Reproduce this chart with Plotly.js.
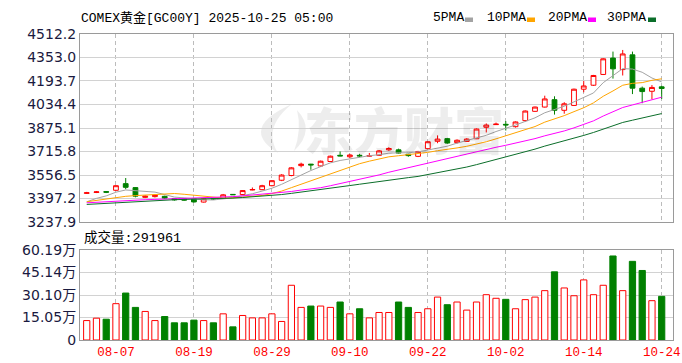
<!DOCTYPE html>
<html>
<head>
<meta charset="utf-8">
<script src="https://cdn.plot.ly/plotly-3.0.1.min.js"></script>
<style>html,body{margin:0;padding:0;background:#fff;}#chart{width:682px;height:363px;}</style>
</head>
<body>
<div id="chart"></div>
<script>
// ---- data ----
const dates = ['08-04','08-05','08-06','08-07','08-08','08-11','08-12','08-13','08-14','08-15',
'08-18','08-19','08-20','08-21','08-22','08-25','08-26','08-27','08-28','08-29',
'09-01','09-02','09-03','09-04','09-05','09-08','09-09','09-10','09-11','09-12',
'09-15','09-16','09-17','09-18','09-19','09-22','09-23','09-24','09-25','09-26',
'09-29','09-30','10-01','10-02','10-03','10-06','10-07','10-08','10-09','10-10',
'10-13','10-14','10-15','10-16','10-17','10-20','10-21','10-22','10-23','10-24'];

const open = [3432,3438,3444,3453,3498,3471,3405,3410,3412,3397,
3396,3395,3373,3397,3398,3425,3424,3455,3457,3484,
3521,3553,3620,3630,3618,3648,3690,3680,3690,3684,
3690,3727,3727,3697,3683,3735,3785,3803,3776,3784,
3802,3880,3898,3900,3884,3925,3988,4017,4067,3995,
4028,4138,4165,4238,4349,4271,4371,4145,4124,4154];
const high = [3442,3448,3448,3487,3536,3474,3418,3426,3416,3400,
3400,3398,3398,3400,3428,3426,3453,3472,3490,3522,
3562,3610,3640,3632,3654,3688,3716,3700,3700,3706,
3726,3745,3735,3700,3720,3785,3825,3808,3798,3806,
3872,3906,3912,3922,3920,3994,4020,4094,4090,4050,
4142,4194,4235,4348,4393,4404,4393,4156,4166,4161];
const low = [3428,3434,3434,3450,3460,3405,3400,3404,3395,3383,
3382,3370,3370,3388,3395,3421,3420,3453,3454,3480,
3515,3548,3608,3592,3612,3644,3684,3670,3678,3682,
3686,3720,3702,3680,3678,3730,3772,3768,3770,3780,
3800,3845,3896,3858,3878,3918,3985,4014,3966,3972,
4024,4117,4160,4234,4210,4231,4105,4043,4070,4072];
const close = [3436,3442,3440,3484,3473,3413,3413,3420,3400,3388,
3386,3374,3395,3394,3422,3423,3451,3458,3484,3518,
3556,3605,3630,3625,3650,3684,3686,3692,3686,3688,
3720,3736,3705,3688,3716,3782,3800,3773,3792,3800,
3868,3895,3901,3896,3916,3990,4017,4072,3995,4039,
4138,4160,4231,4344,4276,4377,4145,4122,4150,4143];

const ma5 = [3375,3398,3415,3440,3455,3450.4,3444.6,3440.6,3423.8,3406.8,
3401.4,3393.6,3388.6,3387.4,3394.2,3401.6,3417,3429.6,3447.6,3466.8,
3493.4,3524.2,3558.6,3586.8,3613.2,3638.8,3655,3667.4,3679.6,3687.2,
3694.4,3704.4,3707,3707.4,3713,3725.4,3738.2,3751.8,3772.6,3789.4,
3806.6,3825.6,3851.2,3872,3895.2,3919.6,3944,3978.2,3998,4022.6,
4052.2,4080.8,4112.6,4182.4,4229.8,4277.6,4274.6,4252.8,4214,4187.4];
const ma10 = [3375,3385,3393,3403,3412,3417,3421,3426,3429,3430.9,
3425.9,3419.1,3414.6,3405.6,3400.5,3401.5,3405.3,3409.1,3417.5,3430.5,
3447.5,3470.6,3494.1,3517.2,3540,3566.1,3589.6,3613,3633.2,3650.2,
3666.6,3679.7,3687.2,3693.5,3700.1,3709.9,3721.3,3729.4,3740,3751.2,
3766,3781.9,3801.5,3822.3,3842.3,3863.1,3884.8,3914.7,3935,3958.9,
3985.9,4012.4,4045.4,4090.2,4126.2,4164.9,4177.7,4182.7,4198.2,4208.6];
const ma20 = [3368,3372,3376,3381,3385,3387,3389,3391,3393,3395,
3396,3397,3399,3401,3405,3410,3415,3420,3425,3430.7,
3436.7,3444.9,3454.4,3461.4,3470.3,3483.8,3497.5,3511.1,3525.4,3540.4,
3557.1,3575.2,3590.7,3605.4,3620.1,3638,3655.5,3671.2,3686.6,3700.7,
3716.3,3730.8,3744.4,3757.9,3771.2,3786.5,3803.1,3822.1,3837.5,3855.1,
3876,3897.2,3923.5,3956.3,3984.3,4014,4031.3,4048.7,4066.6,4083.8];
const ma30 = [3357,3361,3365,3370,3374,3378,3381,3384,3387,3389,
3391,3392,3393,3395,3397,3400,3404,3408,3413,3418,
3424,3432,3440,3448,3456,3466,3475,3485,3494,3503.9,
3513.3,3523.1,3532,3538.8,3546.9,3559.2,3572.1,3583.8,3596.9,3610.6,
3626.7,3644.1,3660.9,3677.7,3694.1,3713,3731.9,3752.4,3769.4,3786.8,
3806.2,3824.7,3844.7,3868.7,3889.5,3912.6,3927.9,3942.3,3957.7,3972.9];

const volume = [130000,146000,139000,243000,314000,218000,191000,130000,157000,115000,
115000,133000,130000,115000,175000,88000,164000,148000,148000,175000,
124000,366000,218000,227000,227000,218000,254000,175000,209000,148000,
184000,184000,254000,218000,184000,209000,287000,236000,254000,200000,
254000,303000,279000,272000,209000,270000,287000,330000,456000,348000,
296000,402000,303000,366000,562000,330000,526000,465000,263000,291961];

const tickDates = ['08-07','08-19','08-29','09-10','09-22','10-02','10-14','10-24'];
const priceTicks = [3237.9,3397.2,3556.5,3715.8,3875.1,4034.4,4193.7,4353.0,4512.2];
const volTicks = [0,150475,300950,451425,601900];
const volTickText = ['0','15.05万','30.10万','45.14万','60.19万'];
const lastVolume = 291961;

// ---- styles ----
const RED = '#ff0000', GREEN = '#008000';
const up = close.map((c,i)=> c >= open[i]);

const traces = [
  {type:'candlestick', x:dates, open:open, high:high, low:low, close:close,
   xaxis:'x', yaxis:'y', hoverinfo:'skip',
   increasing:{line:{color:RED,width:1}, fillcolor:'#ffffff'},
   decreasing:{line:{color:GREEN,width:1}, fillcolor:GREEN},
   whiskerwidth:0},
  {type:'scatter', mode:'lines', x:dates, y:ma5, xaxis:'x', yaxis:'y', line:{color:'#a3a3a3',width:1}, hoverinfo:'skip'},
  {type:'scatter', mode:'lines', x:dates, y:ma10, xaxis:'x', yaxis:'y', line:{color:'#ffa500',width:1}, hoverinfo:'skip'},
  {type:'scatter', mode:'lines', x:dates, y:ma20, xaxis:'x', yaxis:'y', line:{color:'#ff00ff',width:1}, hoverinfo:'skip'},
  {type:'scatter', mode:'lines', x:dates, y:ma30, xaxis:'x', yaxis:'y', line:{color:'#0b6e2a',width:1}, hoverinfo:'skip'},
  {type:'bar', x:dates, y:volume, xaxis:'x2', yaxis:'y2', width:0.64, hoverinfo:'skip',
   marker:{color:up.map(u=>u?'#ffffff':GREEN), line:{color:up.map(u=>u?RED:GREEN), width:1}}}
];

const pxX = p => (p-80)/593;
const pxY = p => (340-p)/306;
const monoFont = 'Liberation Mono, "Noto Sans CJK SC", monospace';
const axisFont = {family:'DejaVu Sans, "Noto Sans CJK SC", sans-serif', size:14, color:'#1a1a40'};

const xBase = {type:'category', range:[-0.69,60.16], tickvals:tickDates, ticktext:tickDates,
  showgrid:true, gridcolor:'#bcbcbc', griddash:'4px,3px', gridwidth:1,
  showline:true, mirror:true, linecolor:'#9a9a9a', linewidth:1, ticks:'', zeroline:false, fixedrange:true};

const legendItems = [
  {t:'5PMA', x:432, bx:465, c:'#a3a3a3'},
  {t:'10PMA', x:486, bx:527, c:'#ffa500'},
  {t:'20PMA', x:547, bx:588, c:'#ff00ff'},
  {t:'30PMA', x:606, bx:648, c:'#0b6e2a'}
];

const annotations = [
  {xref:'paper', yref:'paper', x:pxX(79), y:pxY(18), xanchor:'left', yanchor:'middle', showarrow:false,
   text:'COMEX黄金[GC00Y] 2025-10-25 05:00', font:{family:monoFont, size:13, color:'#000'}},
  {xref:'paper', yref:'paper', x:pxX(82), y:pxY(237), xanchor:'left', yanchor:'middle', showarrow:false,
   text:'成交量:' + lastVolume, font:{family:monoFont, size:13.5, color:'#000'}},
  {xref:'paper', yref:'paper', x:pxX(404), y:pxY(128), xanchor:'center', yanchor:'middle', showarrow:false,
   text:'东方财富', font:{family:'"Noto Sans CJK SC"', size:50, color:'rgba(0,0,0,0.07)', weight:900}}
];
const P = (x,y)=> pxX(x).toFixed(4)+','+pxY(y).toFixed(4);
const shapes = [
  {type:'path', xref:'paper', yref:'paper', layer:'below', line:{width:0}, fillcolor:'rgba(0,0,0,0.07)',
   path:'M'+P(292,104)+' Q'+P(238,128)+' '+P(278,153)+' Q'+P(262,128)+' '+P(292,104)+' Z'},
  {type:'path', xref:'paper', yref:'paper', layer:'below', line:{width:0}, fillcolor:'rgba(0,0,0,0.07)',
   path:'M'+P(297,110)+' Q'+P(316,130)+' '+P(294,151)+' Q'+P(302,130)+' '+P(297,110)+' Z'}
];
legendItems.forEach(l=>{
  annotations.push({xref:'paper', yref:'paper', x:pxX(l.x-1), y:pxY(18), xanchor:'left', yanchor:'middle', showarrow:false,
    text:l.t, font:{family:monoFont, size:13, color:'#000'}});
  shapes.push({type:'rect', xref:'paper', yref:'paper', x0:pxX(l.bx), x1:pxX(l.bx+8), y0:pxY(22), y1:pxY(17.5),
    fillcolor:l.c, line:{width:0}});
});

const layout = {
  width:682, height:363,
  margin:{l:80, r:9, t:34, b:23, pad:0},
  paper_bgcolor:'#ffffff', plot_bgcolor:'#ffffff',
  showlegend:false, hovermode:false, dragmode:false,
  xaxis: Object.assign({}, xBase, {anchor:'y', showticklabels:false, rangeslider:{visible:false}}),
  xaxis2: Object.assign({}, xBase, {anchor:'y2', showticklabels:true,
    tickfont:{family:monoFont, size:12.5, color:RED}, ticklabelstandoff:0}),
  yaxis: {domain:[0.3856,1], range:[3237.9,4512.2], tickvals:priceTicks, ticktext:priceTicks.map(v=>v.toFixed(1)),
    showgrid:true, gridcolor:'#d2d2d2', showline:true, mirror:true, linecolor:'#9a9a9a', ticks:'', zeroline:false,
    tickfont:axisFont, fixedrange:true},
  yaxis2: {domain:[0,0.2941], range:[0,601900], tickvals:volTicks, ticktext:volTickText,
    showgrid:true, gridcolor:'#d2d2d2', showline:true, mirror:true, linecolor:'#9a9a9a', ticks:'', zeroline:false,
    tickfont:axisFont, fixedrange:true},
  annotations:annotations,
  shapes:shapes
};

Plotly.newPlot('chart', traces, layout, {staticPlot:true, displayModeBar:false});
</script>
</body>
</html>
